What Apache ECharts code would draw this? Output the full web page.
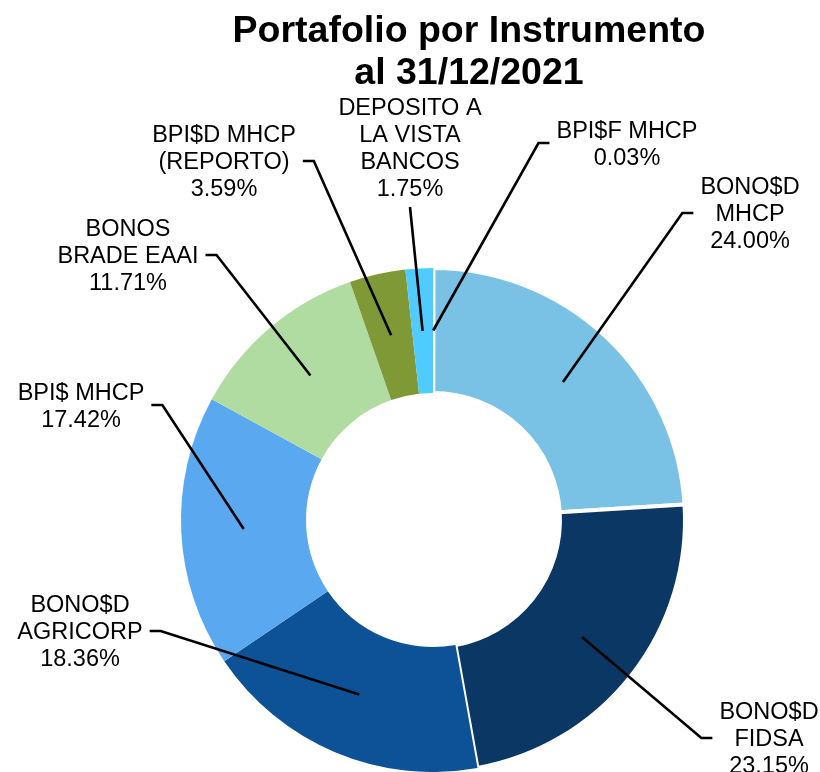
<!DOCTYPE html>
<html>
<head>
<meta charset="utf-8">
<script src="https://cdn.jsdelivr.net/npm/echarts@6/dist/echarts.min.js"></script>
<style>
  html, body { margin: 0; padding: 0; background: #fff; }
  #chart { width: 820px; height: 772px; }
</style>
</head>
<body>
<div id="chart"></div>
<script>
// categorias y valores (porcentaje del portafolio)
var categories = [
    'BPI$F MHCP',
    'BONO$D\nMHCP',
    'BONO$D\nFIDSA',
    'BONO$D\nAGRICORP',
    'BPI$ MHCP',
    'BONOS\nBRADE EAAI',
    'BPI$D MHCP\n(REPORTO)',
    'DEPOSITO A\nLA VISTA\nBANCOS'
];
var values = [0.03, 24.00, 23.15, 18.36, 17.42, 11.71, 3.59, 1.75];
var colors = ['#2E75B6', '#7AC1E6', '#0B3764', '#0D5296', '#5AA9F0', '#B0DCA1', '#7E9936', '#4FCBFF'];

// posicion de las etiquetas (centro del bloque de texto)
var labelPos = [[627, 145], [750, 215], [769, 740], [80, 633], [81, 407], [128, 257], [224, 163], [410, 149]];

var CX = 433, CY = 520, R0 = 127, R = 252;
var FONT = 'Liberation Sans, Arial, sans-serif';

var chart = echarts.init(document.getElementById('chart'));

// anillo con colores
var ringData = categories.map(function (name, i) {
    var item = { name: name, value: values[i], itemStyle: { color: colors[i] } };
    // bordes blancos como en el original
    if (i === 0 || i === 1 || i === 2) {
        item.itemStyle.borderColor = '#fff';
        item.itemStyle.borderWidth = 4;
    }
    return item;
});

// misma serie transparente encima, solo para etiquetas y lineas guia
var labelData = categories.map(function (name, i) {
    return { name: name, value: values[i] };
});

function layoutLabel(params) {
    var i = params.dataIndex;
    var pos = labelPos[i];
    var p0 = params.labelLinePoints ? params.labelLinePoints[0] : [CX, CY];
    // la linea guia parte del centro del anillo
    var k = ((R + R0) / 2) / R;
    var sx = CX + (p0[0] - CX) * k;
    var sy = CY + (p0[1] - CY) * k;
    var w = params.labelRect.width, h = params.labelRect.height;
    var pts;
    if (i === categories.length - 1) {
        var ey = pos[1] + h / 2 + 4;
        pts = [[sx, sy], [pos[0], ey], [pos[0], ey]];
    } else {
        var ly = pos[1] - 2;
        var ex, bx;
        if (pos[0] < CX) {
            ex = pos[0] + w / 2 + 7;
            bx = ex + 11;
        } else {
            ex = pos[0] - w / 2 - 7;
            bx = ex - 11;
        }
        pts = [[sx, sy], [bx, ly], [ex, ly]];
    }
    return {
        x: pos[0],
        y: pos[1],
        align: 'center',
        verticalAlign: 'middle',
        labelLinePoints: pts
    };
}

var option = {
    animation: false,
    backgroundColor: '#fff',
    title: {
        text: 'Portafolio por Instrumento\nal 31/12/2021',
        left: 464,
        top: 6,
        textAlign: 'center',
        textStyle: {
            fontFamily: FONT,
            fontSize: 37.5,
            fontWeight: 'bold',
            color: '#000',
            lineHeight: 42
        }
    },
    series: [{
        type: 'pie',
        center: [CX, CY],
        radius: [R0, R],
        startAngle: 90,
        clockwise: true,
        silent: true,
        label: { show: false },
        labelLine: { show: false },
        data: ringData
    }, {
        type: 'pie',
        z: 5,
        center: [CX, CY],
        radius: [R0, R],
        startAngle: 90,
        clockwise: true,
        silent: true,
        avoidLabelOverlap: false,
        itemStyle: { color: 'rgba(0,0,0,0)', borderWidth: 0 },
        label: {
            show: true,
            position: 'outside',
            fontFamily: FONT,
            fontSize: 23.5,
            lineHeight: 27,
            color: '#000',
            align: 'center',
            formatter: function (p) {
                return p.name + '\n' + p.value.toFixed(2) + '%';
            }
        },
        labelLine: {
            show: true,
            showAbove: true,
            length: 20,
            length2: 10,
            lineStyle: { color: '#000', width: 2.6 }
        },
        labelLayout: layoutLabel,
        data: labelData
    }]
};

chart.setOption(option);
</script>
</body>
</html>
